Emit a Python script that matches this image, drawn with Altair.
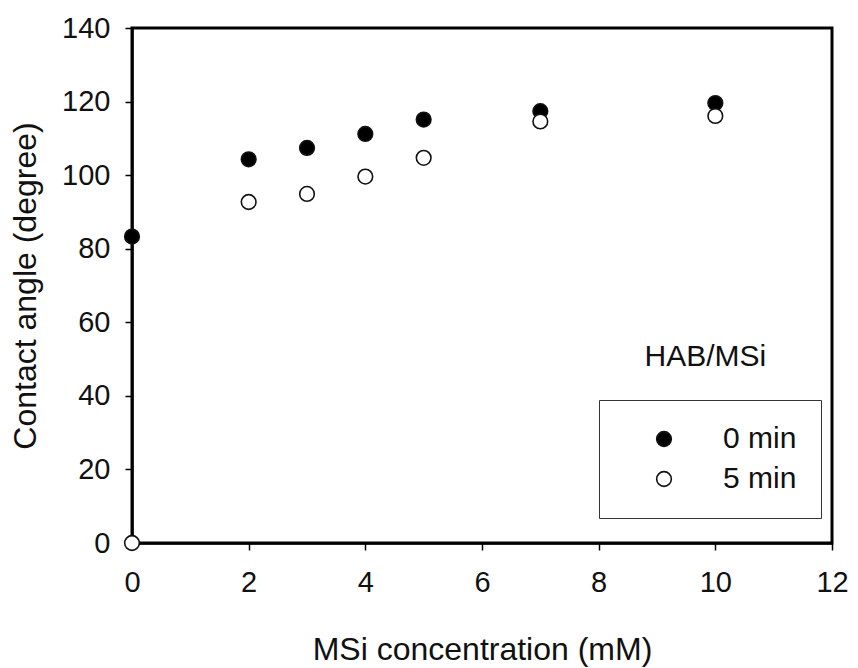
import altair as alt
import pandas as pd

conc = [0, 2, 3, 4, 5, 7, 10]
angle_0min = [83.3, 104.3, 107.4, 111.2, 115.1, 117.4, 119.6]
angle_5min = [0.0, 92.7, 94.9, 99.6, 104.7, 114.6, 116.1]
series_names = ["0 min", "5 min"]

rows = []
for c, a in zip(conc, angle_0min):
    rows.append({"conc": c, "angle": a, "series": series_names[0]})
for c, a in zip(conc, angle_5min):
    rows.append({"conc": c, "angle": a, "series": series_names[1]})
df = pd.DataFrame(rows)

FONT = "Liberation Sans"

points = alt.Chart(df).mark_circle(size=215, opacity=1, stroke="#111", strokeWidth=1.6).encode(
    x=alt.X("conc:Q", scale=alt.Scale(domain=[0, 12], nice=False),
            axis=alt.Axis(title="MSi concentration (mM)", values=[0, 2, 4, 6, 8, 10, 12],
                          format="d", labelFlush=False,
                          grid=False, tickSize=7, tickWidth=1.5, tickColor="black",
                          domainColor="black", domainWidth=2.5,
                          labelFont=FONT, labelFontSize=29, labelColor="#111", labelPadding=18,
                          titleFont=FONT, titleFontSize=32, titleFontWeight="normal",
                          titleColor="#111", titlePadding=37)),
    y=alt.Y("angle:Q", scale=alt.Scale(domain=[0, 140], nice=False),
            axis=alt.Axis(title="Contact angle (degree)", values=[0, 20, 40, 60, 80, 100, 120, 140],
                          format="d", labelFlush=False,
                          grid=False, tickSize=7, tickWidth=1.5, tickColor="black",
                          domainColor="black", domainWidth=2.5,
                          labelFont=FONT, labelFontSize=29, labelColor="#111", labelPadding=15,
                          titleFont=FONT, titleFontSize=32, titleFontWeight="normal",
                          titleColor="#111", titlePadding=19)),
    fill=alt.Fill("series:N", scale=alt.Scale(domain=series_names, range=["black", "white"]),
                  legend=alt.Legend(title=None, orient="none", legendX=467, legendY=372,
                                    direction="vertical",
                                    strokeColor="#333", padding=24, symbolType="circle",
                                    symbolSize=215, symbolStrokeColor="#111", symbolStrokeWidth=1.6,
                                    symbolOffset=26, labelOffset=44, rowPadding=10,
                                    labelFont=FONT, labelFontSize=30, labelColor="#111",
                                    labelExpr="datum.label + '   '")),
)

legend_title = alt.Chart(pd.DataFrame({"conc": [9.83], "angle": [48.1], "t": ["HAB/MSi"]})).mark_text(
    font=FONT, fontSize=30, color="#111", align="center", baseline="alphabetic"
).encode(x="conc:Q", y="angle:Q", text="t:N")

chart = (points + legend_title).properties(
    width=700, height=515,
    autosize=alt.AutoSizeParams(type="none"),
    padding={"left": 124, "top": 20, "right": 16, "bottom": 125},
    background="white",
).configure_view(stroke="black", strokeWidth=3)

chart.save("out.html", embed_options={"renderer": "svg", "actions": False})
